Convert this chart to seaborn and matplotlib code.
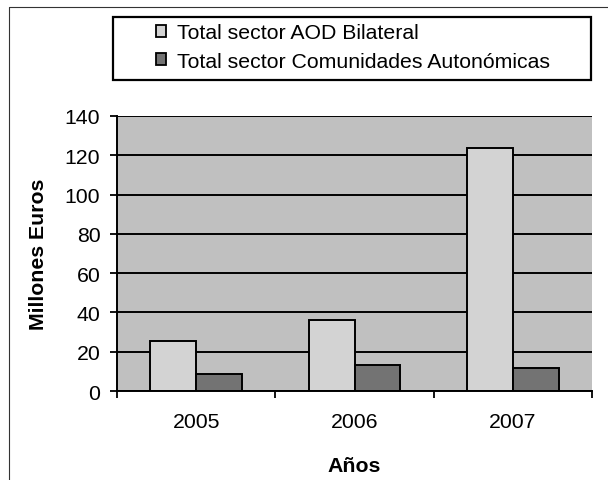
import matplotlib
matplotlib.use("Agg")
import matplotlib.pyplot as plt
import seaborn as sns
import pandas as pd
from matplotlib.patches import Rectangle, Patch
from matplotlib.lines import Line2D

years = ["2005", "2006", "2007"]
series = ["Total sector AOD Bilateral", "Total sector Comunidades Autonómicas"]
aod_bilateral = [25.4, 36.4, 123.8]
comunidades = [8.9, 13.0, 11.8]
y_ticks = [0, 20, 40, 60, 80, 100, 120, 140]

df = pd.DataFrame({
    "Año": years * 2,
    "Serie": [series[0]] * len(years) + [series[1]] * len(years),
    "Valor": aod_bilateral + comunidades,
})

sns.set_theme(style="white")
plt.rcParams["font.family"] = ["Liberation Sans", "DejaVu Sans"]
for k in ["text.color", "axes.labelcolor", "xtick.color", "ytick.color"]:
    plt.rcParams[k] = "black"

W, H = 608, 481
fig = plt.figure(figsize=(W / 100, H / 100), dpi=100)
ax = fig.add_axes([117 / W, 1 - 392 / H, (592 - 117) / W, (392 - 117) / H])
ax.set_facecolor("#c0c0c0")
ax.set_axisbelow(True)

colors = ["#d3d3d3", "#737373"]
sns.barplot(data=df, x="Año", y="Valor", hue="Serie", palette=colors,
            width=0.58, edgecolor="black", linewidth=1.4, saturation=1,
            ax=ax, legend=False, errorbar=None)

ax.set_ylim(0, 140)
ax.set_yticks(y_ticks)
ax.set_xlim(-0.5, 2.5)
ax.set_xticks(range(len(years)))
ax.set_xticklabels(years)
ax.set_xticks([-0.5, 0.5, 1.5, 2.5], minor=True)

ax.yaxis.grid(True, color="black", linewidth=1.4)
ax.xaxis.grid(False)

ax.tick_params(axis="y", direction="out", length=5, width=1.3, pad=7,
               labelsize=15.3, left=True)
ax.tick_params(axis="x", which="major", length=0, pad=15, labelsize=15.3)
ax.tick_params(axis="x", which="minor", direction="out", length=5, width=1.3,
               bottom=True)

for s in ["top", "right"]:
    ax.spines[s].set_visible(False)
for s in ["left", "bottom"]:
    ax.spines[s].set_color("black")
    ax.spines[s].set_linewidth(1.4)

ax.set_xlabel("Años", fontsize=15.3, fontweight="bold", labelpad=18)
ax.set_ylabel("Millones Euros", fontsize=15.3, fontweight="bold", labelpad=12)

handles = [Patch(facecolor=c, edgecolor="black", linewidth=1.3) for c in colors]
fig.legend(handles, series, loc="center",
           bbox_to_anchor=(353 / W, 1 - 48 / H), frameon=False,
           fontsize=15.3, handlelength=0.48, handleheight=0.48,
           handletextpad=0.55, labelspacing=0.45)
fig.add_artist(Rectangle((113 / W, 1 - 81 / H), 478 / W, 63 / H,
                         transform=fig.transFigure, fill=False,
                         edgecolor="black", linewidth=1.6))

fig.add_artist(Line2D([9 / W, 9 / W], [0, 1 - 8 / H], transform=fig.transFigure,
                      color="#333333", linewidth=0.8))
fig.add_artist(Line2D([9 / W, 1], [1 - 8 / H, 1 - 8 / H], transform=fig.transFigure,
                      color="#333333", linewidth=0.8))

fig.savefig("out.png", dpi=100)
